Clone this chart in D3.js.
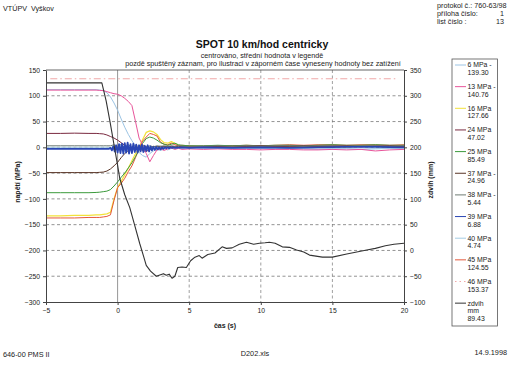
<!DOCTYPE html>
<html><head><meta charset="utf-8">
<script src="https://cdn.jsdelivr.net/npm/d3@7"></script>
<style>
html,body{margin:0;padding:0;background:#fff;}
svg{display:block;font-family:"Liberation Sans",Arial,sans-serif;}
</style></head><body>
<svg id="c" width="511" height="365"></svg>
<script>
// ---- data ----
const time = [-5,-4,-3,-2,-1.5,-1.25,-1,-0.75,-0.5,-0.25,0,0.25,0.5,0.75,1,1.25,1.5,1.75,2,2.25,2.5,2.75,3,3.25,3.5,3.75,4,4.25,4.5,5,6,7,8,9,10,11,12,13,14,15,16,17,18,19,20];
const mpa6  = [112,112,112,112,112,111,110,106,98,86,72,55,39,25,13,2,-10,-16,-19,-12,-7,-4,-6,-3,-5,-2,-3,-1,-2,-1,-1,-2,-1,-2,-2,-3,-2,-3,-4,-3,-3,-4,-3,-2,-3];
const mpa13 = [111,111,111,111,111,110.5,110,108,106,104,103,100,95,89,81,50,18,4,-12,-28,-16,-5,-3,-6,-3,-1,-4,-2,-4,-3,-4,-3,-4,-4,-5,-4,-4,-5,-5,-4,-5,-4,-7,-5,-4];
const mpa16 = [-133,-133,-132,-132,-131,-131,-130,-129,-126,-100,-78,-66,-53,-40,-26,-12,0,15,29,32,30,25,15,9,8,11,8,4,3,2,1,2,1,2,1,2,2,1,2,2,1,2,2,1,2];
const mpa24 = [27,27,27.5,27,27,26.5,26,24,21,18,14,9,4,1,-2,-4,-3,-6,-8,-4,-2,-3,0,1,0,2,1,0,1,1,2,1,2,2,3,2,2,3,2,3,3,2,3,3,2];
const mpa25 = [-88,-88,-88,-88,-87.5,-87,-86,-85,-82,-75,-67,-58,-50,-40,-30,-18,-5,8,17,20,18,14,9,6,4,6,8,5,4,3,3,4,3,4,3,4,4,3,4,5,4,4,5,4,4];
const mpa37 = [-49,-49,-49,-49,-49,-48.5,-48,-46,-42,-36,-29,-20,-12,-6,-2,-1,0,2,1,0,2,1,2,1,2,1,1,2,1,1,1,2,1,2,2,1,2,1,2,2,1,2,2,1,2];
const mpa38 = [3,3,3,3,3,3,3,3,3,5,0,6,-1,5,0,4,1,5,0,3,1,3,2,3,2,3,2,3,2,2,2,3,2,3,2,3,3,2,3,3,2,3,3,2,3];
const mpa40 = [0,0,0,0,0,0,0,0,-1,3,-6,5,-8,4,-7,3,-6,2,-5,1,-3,0,-2,-1,-1,0,-1,0,-1,-1,-1,-1,-2,-1,-2,-1,-2,-2,-1,-2,-2,-1,-2,-2,-1];
const mpa45 = [-137,-137,-137,-136,-136,-136,-135,-134,-131,-103,-78,-70,-60,-47,-36,-20,-2,12,20,27,25,22,10,6,5,8,5,3,4,3,2,3,3,4,3,4,5,4,5,5,4,5,5,4,5];

const time39 = [-5,-4,-3,-2,-1,-0.6,-0.5,-0.4,-0.3,-0.2,-0.1,0,0.1,0.2,0.3,0.4,0.5,0.6,0.7,0.8,0.9,1,1.1,1.2,1.3,1.4,1.5,1.6,1.7,1.8,1.9,2,2.1,2.2,2.3,2.4,2.5,2.6,2.7,2.8,2.9,3,3.1,3.2,3.3,3.4,3.5,3.6,3.7,3.8,3.9,4,4.5,5,6,8,10,12,14,16,18,20];
const mpa39  = [-3,-3,-3,-3,-3,-3,-1,-6,2,-8,4,-10,6,-11,7,-12,8,-10,9,-12,6,-11,7,-9,5,-10,4,-8,5,-9,3,-7,4,-8,2,-6,1,-5,1,-4,0,-4,0,-3,0,-2,0,-2,0,-1,0,-1,0,-1,0,-1,0,-1,0,1,1,0];

const time46 = [-4.7,19.6];
const mpa46  = [133,133];

const timeZ = [-5,-1.1,-0.8,-0.5,-0.25,0,0.15,0.5,0.85,1.2,1.55,1.8,2.0,2.3,2.7,3.0,3.2,3.4,3.6,3.8,4.0,4.2,4.5,4.8,5.1,5.4,5.7,5.9,6.3,6.8,7.3,7.6,8.0,8.5,9.0,9.5,9.9,10.3,10.6,11.0,11.5,12.0,12.5,13.0,13.4,14.3,15.0,16.0,16.7,17.4,18.0,18.7,19.3,20.0];
const zdvih = [325,325,290,245,205,165,140,108,83,48,13,-10,-29,-40,-50,-47,-45,-48,-46,-54,-50,-33,-32,-33,-20,-13,-10,-15,-8,-5,7,4,5,12,16,12,14,15,16,14,7,6,1,-3,-9,-13,-13,-7,-3,1,4,9,12,14];

const legendNames = [["6 MPa -","139.30"],["13 MPa -","140.76"],["16 MPa","127.66"],["24 MPa","47.02"],["25 MPa","85.49"],["37 MPa -","24.96"],["38 MPa -","5.44"],["39 MPa","6.88"],["40 MPa","4.74"],["45 MPa","124.55"],["46 MPa","153.37"],["zdvih","mm","89.43"]];

const xTicks = [-5,0,5,10,15,20];
const leftTicks = [150,100,50,0,-50,-100,-150,-200,-250,-300];
const rightTicks = [350,300,250,200,150,100,50,0,-50,-100];

// ---- series table ----
const series = [
  {t: time,   v: mpa6,  axis:"L"},
  {t: time,   v: mpa13, axis:"L"},
  {t: time,   v: mpa16, axis:"L"},
  {t: time,   v: mpa24, axis:"L"},
  {t: time,   v: mpa25, axis:"L"},
  {t: time,   v: mpa37, axis:"L"},
  {t: time,   v: mpa38, axis:"L"},
  {t: time39, v: mpa39, axis:"L"},
  {t: time,   v: mpa40, axis:"L"},
  {t: time,   v: mpa45, axis:"L"},
  {t: time46, v: mpa46, axis:"L"},
  {t: timeZ,  v: zdvih, axis:"R"}
];
const styles = [
  {c:"#9cc4e4", w:1},
  {c:"#e8559a", w:1},
  {c:"#f2e23a", w:1.2},
  {c:"#7a2a40", w:1},
  {c:"#3c9a3c", w:1},
  {c:"#5a3426", w:1},
  {c:"#6e7c74", w:1},
  {c:"#2a46b4", w:1.8},
  {c:"#a4cce4", w:1},
  {c:"#e4583a", w:1},
  {c:"#f0a8a8", w:1, dash:"7,3,1.5,3"},
  {c:"#333333", w:1.1}
];
const drawOrder = [0,2,9,4,5,3,1,6,8,7,10,11];

// ---- layout ----
const FONT = '"Liberation Sans",Arial,sans-serif';
const svg = d3.select("#c");
const L = 46, R = 404, T = 70, B = 302;
const x = d3.scaleLinear().domain([-5,20]).range([L,R]);
const yL = d3.scaleLinear().domain([-300,150]).range([B,T]);
const yR = d3.scaleLinear().domain([-100,350]).range([B,T]);

// header texts
svg.append("text").attr("x",3).attr("y",11).attr("font-size",7.2).style("white-space","pre").attr("fill","#222").text("VTÚPV  Vyškov");
const hdr = svg.append("g").attr("font-size",7.2).attr("fill","#222");
hdr.append("text").attr("x",437).attr("y",8).text("protokol č.: 760-63/98");
hdr.append("text").attr("x",437).attr("y",16).text("příloha číslo:");
hdr.append("text").attr("x",504).attr("y",16).attr("text-anchor","end").text("1");
hdr.append("text").attr("x",437).attr("y",23.5).text("list číslo :");
hdr.append("text").attr("x",504).attr("y",23.5).attr("text-anchor","end").text("13");

// titles
svg.append("text").attr("x",262).attr("y",47.5).attr("text-anchor","middle").attr("font-size",10.5).attr("font-weight","bold").attr("fill","#111").text("SPOT 10 km/hod centricky");
svg.append("text").attr("x",262).attr("y",57.5).attr("text-anchor","middle").attr("font-size",7.2).attr("fill","#222").text("centrováno, střední hodnota v legendě");
svg.append("text").attr("x",263).attr("y",66).attr("text-anchor","middle").attr("font-size",7.2).attr("fill","#222").text("pozdě spuštěný záznam, pro ilustraci v záporném čase vyneseny hodnoty bez zatížení");

// gridlines
const grid = svg.append("g");
grid.selectAll("line.h").data(leftTicks.filter(d=>d!==150 && d!==-300)).join("line")
  .attr("x1",L).attr("x2",R).attr("y1",d=>yL(d)).attr("y2",d=>yL(d))
  .attr("stroke","#666").attr("stroke-width",0.7).attr("stroke-dasharray","3,2.5");
grid.selectAll("line.v").data(xTicks.filter(d=>d!==-5 && d!==0 && d!==20)).join("line")
  .attr("x1",d=>x(d)).attr("x2",d=>x(d)).attr("y1",T).attr("y2",B)
  .attr("stroke","#777").attr("stroke-width",0.7).attr("stroke-dasharray","3,2.5");
grid.append("line").attr("x1",x(0)).attr("x2",x(0)).attr("y1",T).attr("y2",B)
  .attr("stroke","#8a8a8a").attr("stroke-width",0.9);

// series
const gS = svg.append("g");
drawOrder.forEach(i=>{
  const s = series[i], st = styles[i];
  const yy = s.axis==="L" ? yL : yR;
  const pts = s.t.map((t,k)=>[t,s.v[k]]);
  gS.append("path").datum(pts)
    .attr("d", d3.line().x(d=>x(d[0])).y(d=>yy(d[1])))
    .attr("fill","none").attr("stroke",st.c).attr("stroke-width",st.w)
    .attr("stroke-linejoin","round")
    .attr("stroke-dasharray", st.dash||null);
});

// frame
svg.append("line").attr("x1",L).attr("x2",R).attr("y1",T).attr("y2",T).attr("stroke","#555").attr("stroke-width",0.9);

// axes
const axL = svg.append("g").attr("transform",`translate(${L},0)`)
  .call(d3.axisLeft(yL).tickValues(leftTicks).tickSizeInner(3).tickSizeOuter(0).tickPadding(3).tickFormat(d3.format("d")));
const axR = svg.append("g").attr("transform",`translate(${R},0)`)
  .call(d3.axisRight(yR).tickValues(rightTicks).tickSizeInner(3).tickSizeOuter(0).tickPadding(3).tickFormat(d3.format("d")));
const axB = svg.append("g").attr("transform",`translate(0,${B})`)
  .call(d3.axisBottom(x).tickValues(xTicks).tickSizeInner(3).tickSizeOuter(0).tickPadding(3).tickFormat(d3.format("d")));
[axL,axR,axB].forEach(a=>{
  a.selectAll("text").attr("font-size",6.8).attr("fill","#222").attr("font-family",FONT);
  a.selectAll("line,path").attr("stroke","#444");
});

// axis titles
svg.append("text").attr("transform","translate(20,182) rotate(-90)").attr("text-anchor","middle")
  .attr("font-size",7).attr("font-weight","bold").attr("fill","#222").text("napětí (MPa)");
svg.append("text").attr("transform","translate(433,180) rotate(-90)").attr("text-anchor","middle")
  .attr("font-size",7).attr("font-weight","bold").attr("fill","#222").text("zdvih (mm)");
svg.append("text").attr("x",(L+R)/2).attr("y",328).attr("text-anchor","middle")
  .attr("font-size",7).attr("font-weight","bold").attr("fill","#222").text("čas (s)");

// legend
const lg = svg.append("g");
lg.append("rect").attr("x",452).attr("y",59).attr("width",45.5).attr("height",267)
  .attr("fill","#fff").attr("stroke","#555").attr("stroke-width",0.8);
legendNames.forEach((lines,i)=>{
  const y0 = 65 + i*21.65;
  const st = styles[i];
  lg.append("line").attr("x1",455).attr("x2",466).attr("y1",y0).attr("y2",y0)
    .attr("stroke",st.c).attr("stroke-width",1).attr("stroke-dasharray", st.dash? "1.5,3": null);
  lines.forEach((t,j)=>{
    lg.append("text").attr("x",467.5).attr("y",y0+2.4+j*7.7).attr("font-size",6.9).attr("fill","#222").text(t);
  });
});

// footer
const ft = svg.append("g").attr("font-size",7.3).attr("fill","#222");
ft.append("text").attr("x",3).attr("y",357).text("646-00 PMS II");
ft.append("text").attr("x",255).attr("y",356).attr("text-anchor","middle").text("D202.xls");
ft.append("text").attr("x",507).attr("y",355).attr("text-anchor","end").text("14.9.1998");
</script>
</body></html>
